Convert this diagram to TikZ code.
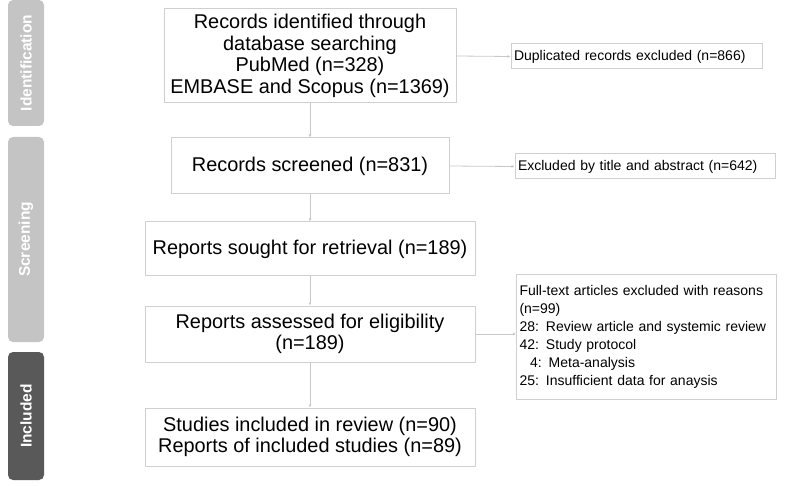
\documentclass[tikz,border=0pt]{standalone}
\usepackage{fontspec}
\setmainfont{Liberation Sans}
\usetikzlibrary{arrows.meta}
\definecolor{ln}{HTML}{C8C8C8}
\definecolor{bx}{HTML}{D0D0D0}
\definecolor{sidel}{HTML}{C4C4C4}
\definecolor{sided}{HTML}{595959}
\begin{document}
\begin{tikzpicture}[x=1pt,y=-1pt,
 mainbox/.style={draw=bx,line width=1pt,align=center,font=\fontsize{19.9}{21.5}\selectfont,inner sep=0pt},
 sidebox/.style={draw=bx,line width=1pt,align=left,font=\fontsize{14}{18}\selectfont,inner sep=0pt},
 conn/.style={draw=ln,line width=0.8pt,-{Latex[length=3pt,width=3pt]}},
 phase/.style={rounded corners=5pt,draw=none},
 phasetxt/.style={rotate=90,text=white,font=\bfseries\fontsize{15.5}{17}\selectfont}]
\useasboundingbox (0,0) rectangle (792,486);
\node[mainbox,minimum width=292,minimum height=94] (b1) at (310,56) {Records identified through\\database searching\\PubMed (n=328)\\EMBASE and Scopus (n=1369)};
\node[mainbox,minimum width=278,minimum height=56] (b2) at (310,166) {Records screened (n=831)};
\node[mainbox,minimum width=330,minimum height=54] (b3) at (310,249) {Reports sought for retrieval (n=189)};
\node[mainbox,minimum width=330,minimum height=56] (b4) at (310,334) {Reports assessed for eligibility\\(n=189)};
\node[mainbox,minimum width=330,minimum height=58] (b5) at (310,437) {Studies included in review (n=90)\\Reports of included studies (n=89)};
\node[sidebox,minimum width=251,minimum height=25,text width=245,inner xsep=3pt] (r1) at (636.5,56.5) {Duplicated records excluded (n=866)};
\node[sidebox,minimum width=260,minimum height=25,text width=254,inner xsep=3pt] (r2) at (645,166.5) {Excluded by title and abstract (n=642)};
\node[sidebox,minimum width=260,minimum height=124,anchor=west,text width=254,inner xsep=3pt] (r3) at (516,337) {Full-text articles excluded with reasons\\(n=99)\\28: Review article and systemic review\\42: Study protocol\\\hspace*{0.75em}4: Meta-analysis\\25: Insufficient data for anaysis};
\draw[conn] (b1) -- (b2);
\draw[conn] (b2) -- (b3);
\draw[conn] (b3) -- (b4);
\draw[conn] (b4) -- (b5);
\draw[conn] (b1.east) -- (r1.west);
\draw[conn] (b2.east) -- (r2.west);
\draw[conn] (b4.east) -- (r3.west|-b4.east);
\fill[phase,sidel] (8,0) rectangle (44,126);
\fill[phase,sidel] (8,137) rectangle (44,342);
\fill[phase,sided] (8,352) rectangle (44,480);
\node[phasetxt] (p1) at (26,63) {Identification};
\node[phasetxt] (p2) at (26,239.5) {Screening};
\node[phasetxt] (p3) at (26,416) {Included};
\end{tikzpicture}
\end{document}
